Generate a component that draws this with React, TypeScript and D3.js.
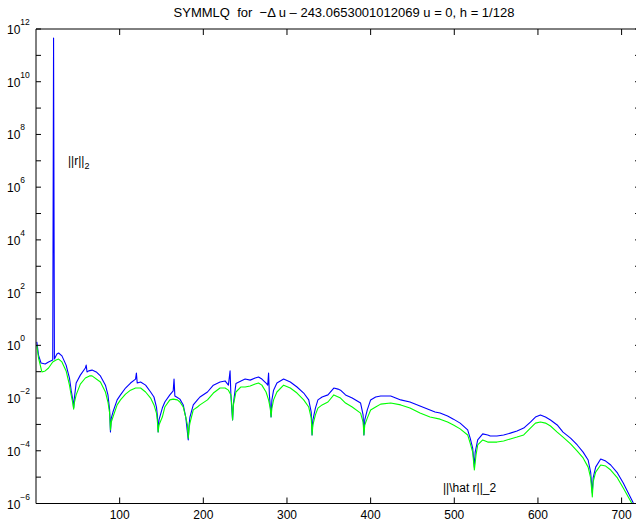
import React from "react";
import * as d3 from "d3";

// Residual histories: [iteration, log10 of the norm]
const rNorm: [number, number][] = [
  [1, 0.13], [3, -0.37], [6, -0.67], [11, -0.71], [15, -0.63], [20, -0.56],
  [21, 11.66], [22, -0.52], [25, -0.33], [27, -0.29], [31, -0.4], [36, -0.75],
  [40, -1.24], [42, -1.7], [44, -2.07], [45, -2.38], [46, -1.96], [48, -1.43],
  [53, -1.13], [59, -0.86], [60, -0.75], [61, -1.01], [63, -0.97], [67, -0.94],
  [72, -1.01], [77, -1.16], [83, -1.51], [86, -1.88], [88, -2.45], [89, -3.29],
  [90, -2.76], [92, -2.53], [97, -2.07], [101, -1.88], [107, -1.62], [113, -1.43],
  [119, -1.28], [120, -1.05], [121, -1.43], [125, -1.39], [131, -1.51], [137, -1.77],
  [141, -1.96], [144, -2.34], [145, -2.64], [146, -3.29], [147, -2.83], [151, -2.38],
  [154, -2.15], [160, -1.88], [164, -1.73], [165, -1.28], [166, -1.92], [168, -1.96],
  [172, -2.04], [176, -2.26], [179, -2.72], [182, -3.59], [183, -3.02], [184, -2.72],
  [188, -2.26], [193, -2.07], [196, -1.96], [205, -1.77], [212, -1.51], [220, -1.39],
  [226, -1.35], [230, -1.51], [232, -0.97], [233, -1.9], [234, -2.4], [235, -2.83],
  [236, -2.2], [238, -1.7], [239, -1.45], [245, -1.35], [250, -1.28], [256, -1.32],
  [262, -1.24], [266, -1.2], [270, -1.28], [275, -1.43], [277, -1.51], [278, -1.05],
  [279, -1.88], [281, -2.72], [282, -2.07], [284, -1.7], [288, -1.43], [296, -1.28],
  [304, -1.39], [312, -1.58], [320, -1.81], [326, -2.07], [329, -2.53], [330, -3.4],
  [331, -2.83], [334, -2.38], [337, -2.07], [342, -1.96], [349, -1.88], [356, -1.62],
  [361, -1.66], [364, -1.7], [370, -1.88], [378, -2.0], [388, -2.19], [391, -2.64],
  [392, -3.4], [393, -2.83], [396, -2.45], [400, -2.07], [406, -1.96], [412, -1.92],
  [424, -1.92], [436, -2.07], [447, -2.15], [459, -2.3], [471, -2.45], [477, -2.53],
  [483, -2.57], [492, -2.68], [499, -2.8], [507, -2.95], [516, -3.21], [519, -3.52],
  [522, -3.9], [524, -4.62], [525, -4.05], [528, -3.59], [534, -3.36], [540, -3.4],
  [543, -3.44], [551, -3.44], [559, -3.4], [567, -3.33], [575, -3.25], [583, -3.14],
  [591, -2.91], [597, -2.72], [603, -2.64], [609, -2.72], [615, -2.83], [623, -3.02],
  [630, -3.29], [639, -3.52], [647, -3.78], [654, -4.05], [660, -4.35], [663, -4.81],
  [665, -5.6], [666, -5.03], [669, -4.62], [675, -4.31], [681, -4.39], [687, -4.54],
  [695, -4.84], [702, -5.22], [708, -5.6], [714, -5.98], [718, -6.2],
];

const rHatNorm: [number, number][] = [
  [1, 0.01], [3, -0.48], [7, -1.01], [11, -0.97], [15, -0.86], [20, -0.63],
  [24, -0.56], [27, -0.52], [31, -0.63], [36, -0.97], [40, -1.51], [42, -1.88],
  [44, -2.19], [45, -2.42], [46, -2.15], [48, -1.88], [53, -1.47], [59, -1.24],
  [64, -1.16], [67, -1.16], [77, -1.39], [83, -1.77], [86, -2.15], [88, -2.57],
  [89, -3.21], [90, -2.91], [92, -2.72], [97, -2.26], [101, -2.07], [107, -1.85],
  [113, -1.7], [119, -1.62], [125, -1.62], [131, -1.77], [137, -2.0], [141, -2.26],
  [144, -2.57], [145, -2.83], [146, -3.29], [147, -3.02], [151, -2.72], [154, -2.34],
  [160, -2.07], [164, -2.04], [169, -2.07], [172, -2.15], [176, -2.34], [179, -2.72],
  [181, -3.02], [182, -3.52], [183, -3.14], [184, -2.95], [188, -2.45], [193, -2.34],
  [196, -2.26], [205, -2.07], [212, -1.81], [220, -1.62], [226, -1.62], [230, -1.7],
  [233, -1.88], [234, -2.26], [235, -2.83], [236, -2.26], [239, -1.77], [245, -1.58],
  [250, -1.58], [256, -1.54], [262, -1.47], [266, -1.43], [270, -1.51], [275, -1.77],
  [278, -2.07], [280, -2.38], [281, -2.72], [282, -2.38], [284, -2.07], [288, -1.77],
  [296, -1.51], [304, -1.62], [312, -1.81], [320, -2.07], [326, -2.34], [329, -2.76],
  [330, -3.4], [331, -3.02], [334, -2.64], [337, -2.38], [342, -2.26], [349, -2.15],
  [356, -1.88], [364, -2.0], [370, -2.19], [378, -2.34], [388, -2.57], [391, -2.91],
  [392, -3.4], [393, -3.02], [396, -2.76], [400, -2.45], [406, -2.34], [412, -2.23],
  [424, -2.19], [436, -2.26], [447, -2.38], [459, -2.57], [471, -2.72], [483, -2.8],
  [492, -2.91], [499, -3.02], [507, -3.17], [516, -3.4], [519, -3.71], [522, -4.05],
  [524, -4.73], [526, -4.16], [528, -3.78], [534, -3.59], [540, -3.67], [551, -3.67],
  [559, -3.63], [567, -3.55], [575, -3.48], [583, -3.4], [591, -3.14], [597, -2.95],
  [603, -2.91], [609, -2.95], [615, -3.06], [623, -3.29], [630, -3.48], [639, -3.74],
  [647, -4.01], [654, -4.27], [660, -4.62], [663, -5.03], [665, -5.75], [666, -5.18],
  [669, -4.81], [675, -4.54], [681, -4.58], [687, -4.73], [695, -5.03], [702, -5.41],
  [708, -5.75], [712, -5.98], [716, -6.2],
];

const xTicks = [100, 200, 300, 400, 500, 600, 700];
const yExponents = d3.range(-6, 13); // every decade gets a tick
const yLabelExponents = [-6, -4, -2, 0, 2, 4, 6, 8, 10, 12];

const titleText = "SYMMLQ  for  \u2212\u0394 u \u2013 243.0653001012069 u = 0, h = 1/128";
const rLabel = "||r||";
const rHatLabel = "||\\hat r||_2";

const W = 636;
const H = 523;
const left = 36;
const right = 640;
const top = 29;
const bottom = 503.5;
const FONT = "'Liberation Sans', Arial, Helvetica, sans-serif";

export default function App() {
  const x = d3.scaleLinear().domain([0, 722]).range([left, right]);
  const y = d3.scaleLog().domain([1e-6, 1e12]).range([bottom, top]);

  const line = d3
    .line<[number, number]>()
    .x((d) => x(d[0]))
    .y((d) => y(Math.pow(10, d[1])));

  const tick = 5;

  return (
    <svg
      width={W}
      height={H}
      style={{ position: "absolute", left: 0, top: 0, background: "#fff" }}
      fontFamily={FONT}
    >
      <rect x={0} y={0} width={W} height={H} fill="#fff" />
      <defs>
        <clipPath id="plotArea">
          <rect x={left} y={top} width={right - left} height={bottom - top} />
        </clipPath>
      </defs>

      <g clipPath="url(#plotArea)" fill="none" strokeWidth={1.1} strokeLinejoin="round">
        <path d={line(rNorm) ?? ""} stroke="#0000ff" />
        <path d={line(rHatNorm) ?? ""} stroke="#00ff00" />
      </g>

      {/* frame */}
      <g stroke="#000" strokeWidth={1} fill="none">
        <line x1={left} x2={left} y1={top} y2={bottom} />
        <line x1={left} x2={right} y1={bottom} y2={bottom} />
        <line x1={left} x2={right} y1={top} y2={top} />
        <line x1={right} x2={right} y1={top} y2={bottom} />
        {xTicks.map((t) => (
          <g key={"xt" + t}>
            <line x1={x(t)} x2={x(t)} y1={bottom} y2={bottom - tick - 1} />
            <line x1={x(t)} x2={x(t)} y1={top} y2={top + tick + 1} />
          </g>
        ))}
        {yExponents.map((e) => (
          <g key={"yt" + e}>
            <line x1={left} x2={left + tick} y1={y(Math.pow(10, e))} y2={y(Math.pow(10, e))} />
            <line x1={right} x2={right - tick} y1={y(Math.pow(10, e))} y2={y(Math.pow(10, e))} />
          </g>
        ))}
      </g>

      {/* x tick labels */}
      <g fontSize={12} fill="#000" textAnchor="middle">
        {xTicks.map((t) => (
          <text key={"xl" + t} x={x(t)} y={519}>
            {t}
          </text>
        ))}
      </g>

      {/* y tick labels */}
      <g fill="#000">
        {yLabelExponents.map((e) => {
          const yy = y(Math.pow(10, e));
          return (
            <text key={"yl" + e} x={7} y={yy + 5} fontSize={12}>
              10
              <tspan fontSize={8.5} dy={-9}>
                {e < 0 ? "\u2212" + Math.abs(e) : String(e)}
              </tspan>
            </text>
          );
        })}
      </g>

      {/* title */}
      <text
        x={344}
        y={17}
        fontSize={13}
        textAnchor="middle"
        fill="#000"
        style={{ whiteSpace: "pre" }}
      >
        {titleText}
      </text>

      {/* annotations */}
      <text x={68} y={165} fontSize={12} fill="#000">
        {rLabel}
        <tspan fontSize={9} dy={4}>
          2
        </tspan>
      </text>
      <text x={443} y={492} fontSize={12} fill="#000">
        {rHatLabel}
      </text>
    </svg>
  );
}
